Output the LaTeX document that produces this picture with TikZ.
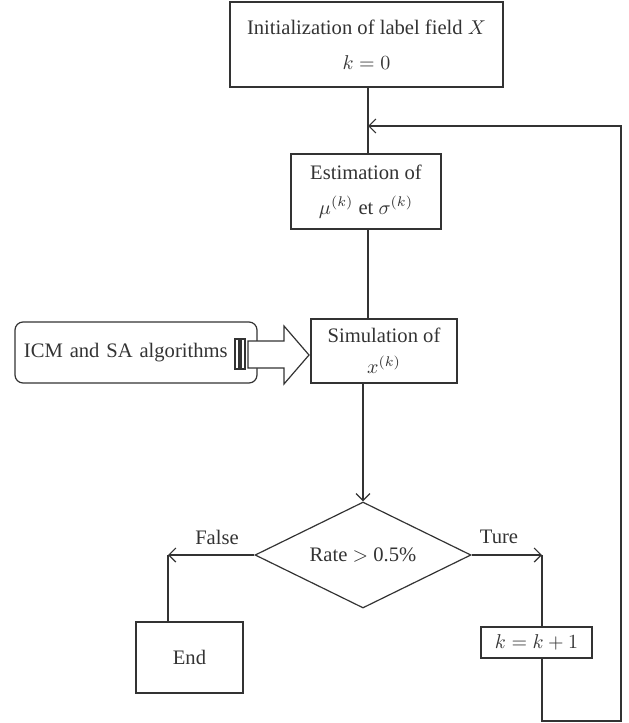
\documentclass[tikz,border=0pt]{standalone}
\usepackage{fontspec}
\setmainfont{Liberation Serif}
\usepackage{xcolor}
\definecolor{inkgray}{HTML}{333333}
\usepackage{tikz}
\usetikzlibrary{arrows.meta,positioning,shapes.geometric}
\tikzset{
  procbox/.style={rectangle, draw=inkgray, line width=0.6pt, inner sep=0pt,
    align=center, text=inkgray},
  flow/.style={draw=inkgray, line width=0.6pt},
  flowarrow/.style={flow, -{Straight Barb[length=3.5pt,width=7pt]}},
}
\begin{document}
\begin{tikzpicture}[x=0.5pt, y=-0.5pt, font=\fontsize{10.3}{12.4}\selectfont]
  \useasboundingbox (0,0) rectangle (628,723);
  % boxes
  \node[procbox, minimum width=136.5pt, minimum height=42.5pt] (init) at (366.5,44.5) {
    Initialization of label field $X$\\[5pt]
    $k = 0$
  };
  \node[procbox, minimum width=75pt, minimum height=37.5pt] (estim) at (366,191.5) {
    Estimation of\\[5pt]
    $\mu^{(k)}$ et $\sigma^{(k)}$
  };
  \node[procbox, minimum width=73pt, minimum height=32pt] (simul) at (384,351) {
    Simulation of\\[3pt]
    $x^{(k)}$
  };
  \node[procbox, rounded corners=4pt, minimum width=121pt, minimum height=30.5pt,
    text width=112pt, align=left] (icm) at (136,352.5) {ICM and SA algorithms};
  \node[procbox, diamond, aspect=2, minimum width=108pt, minimum height=53pt]
    (rate) at (363,555) {Rate $>$ 0.5\%};
  \node[procbox, minimum width=53.5pt, minimum height=35.5pt] (endbox) at (189.5,657.5) {End};
  \node[procbox, minimum width=55.5pt, minimum height=15.5pt] (kinc) at (536.5,642.5) {$k = k + 1$};
  \node[text=inkgray] (falselbl) at (217,537) {False};
  \node[text=inkgray] (turelbl) at (499,537) {Ture};
  % turning points
  \coordinate (merge) at (368,126);
  \coordinate (falsept) at (168,555);
  \coordinate (turept) at (542,555);
  \coordinate (loopbot) at (621,721);
  % connectors
  \draw[flow] (init.south -| merge) -- (estim.north -| merge);
  \draw[flow] (estim.south -| merge) -- (simul.north -| merge);
  \draw[flowarrow] (simul.south -| rate.north) -- (rate.north);
  \draw[flowarrow] (rate.west) -- (falsept);
  \draw[flow] (falsept) -- (falsept |- endbox.north);
  \draw[flowarrow] (rate.east) -- (turept);
  \draw[flow] (turept) -- (turept |- kinc.north);
  \draw[flowarrow] (turept |- kinc.south) -- (turept |- loopbot) -- (loopbot)
    -- (loopbot |- merge) -- (merge);
  % big input arrow
  \draw[flow, fill=white] (248,341) -- (284,341) -- (284,326) -- (309,355)
    -- (284,384) -- (284,368) -- (248,368) -- cycle;
  \draw[flow] (235,339) rectangle (239,369);
  \draw[flow] (241,339) rectangle (245,369);
\end{tikzpicture}
\end{document}
